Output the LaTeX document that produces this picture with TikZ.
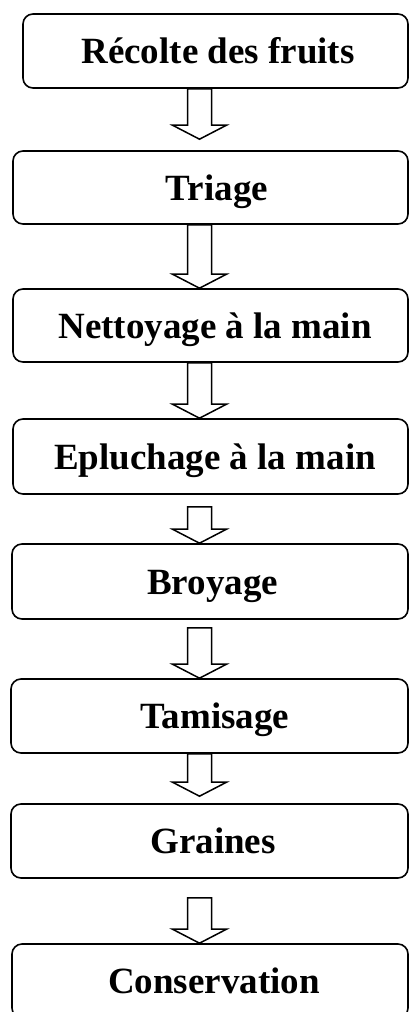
\documentclass[tikz,border=0pt]{standalone}
\usepackage{fontspec}
\setmainfont{Liberation Serif}
\usetikzlibrary{calc}

\tikzset{
  stepbox/.style={draw, line width=1.6pt, rounded corners=10pt, inner sep=0pt,
    minimum width=#1, fill=white},
  steptext/.style={anchor=base, inner sep=0pt,
    font=\fontsize{37}{44}\selectfont\bfseries},
  blockarrow/.style={draw, line width=1.5pt, fill=white, line join=miter,
    to path={let \p1=(\tikztostart), \p2=(\tikztotarget) in
      (\x1-12pt,\y1) -- (\x1-12pt,\y2+14pt) -- (\x1-27pt,\y2+14pt) -- (\x2,\y2)
      -- (\x1+27pt,\y2+14pt) -- (\x1+12pt,\y2+14pt) -- (\x1+12pt,\y1) -- cycle}},
}

\begin{document}
\begin{tikzpicture}[x=1pt, y=-1pt]
  \useasboundingbox (0,0) rectangle (409,1012);
  \fill[white] (0,0) rectangle (409,1012);
  \clip (0,0) rectangle (409,1012);

  % process steps
  \node[stepbox=385pt, minimum height=74pt] (b1) at (215.5,51) {};
  \node[stepbox=395pt, minimum height=73pt] (b2) at (210.5,187.5) {};
  \node[stepbox=395pt, minimum height=73pt] (b3) at (210.5,325.5) {};
  \node[stepbox=395pt, minimum height=75pt] (b4) at (210.5,456.5) {};
  \node[stepbox=396pt, minimum height=75pt] (b5) at (210,581.5) {};
  \node[stepbox=397pt, minimum height=74pt] (b6) at (209.5,716) {};
  \node[stepbox=397pt, minimum height=74pt] (b7) at (209.5,841) {};
  \node[stepbox=396pt, minimum height=74pt] (b8) at (210,981) {};

  \node[steptext] (t1) at ([shift={(2.5pt,-12.5pt)}]b1.center) {Récolte des fruits};
  \node[steptext] (t2) at ([shift={(6.5pt,-12.5pt)}]b2.center) {Triage};
  \node[steptext] (t3) at ([shift={(4.5pt,-12.5pt)}]b3.center) {Nettoyage à la main};
  \node[steptext] (t4) at ([shift={(4.5pt,-12.5pt)}]b4.center) {Epluchage à la main};
  \node[steptext] (t5) at ([shift={(2.5pt,-12.5pt)}]b5.center) {Broyage};
  \node[steptext] (t6) at ([shift={(5.5pt,-12.5pt)}]b6.center) {Tamisage};
  \node[steptext] (t7) at ([shift={(3.5pt,-12.5pt)}]b7.center) {Graines};
  \node[steptext] (t8) at ([shift={(4pt,-12.5pt)}]b8.center) {Conservation};

  % axis of the block arrows
  \coordinate (ax) at (199.5,0);

  \draw[blockarrow] (b1.south -| ax) to ([yshift=11pt]b2.north -| ax);
  \draw[blockarrow] (b2.south -| ax) to (b3.north -| ax);
  \draw[blockarrow] (b3.south -| ax) to (b4.north -| ax);
  \draw[blockarrow] ([yshift=-12pt]b4.south -| ax) to (b5.north -| ax);
  \draw[blockarrow] ([yshift=-8pt]b5.south -| ax) to (b6.north -| ax);
  \draw[blockarrow] (b6.south -| ax) to ([yshift=7pt]b7.north -| ax);
  \draw[blockarrow] ([yshift=-19pt]b7.south -| ax) to (b8.north -| ax);
\end{tikzpicture}
\end{document}
